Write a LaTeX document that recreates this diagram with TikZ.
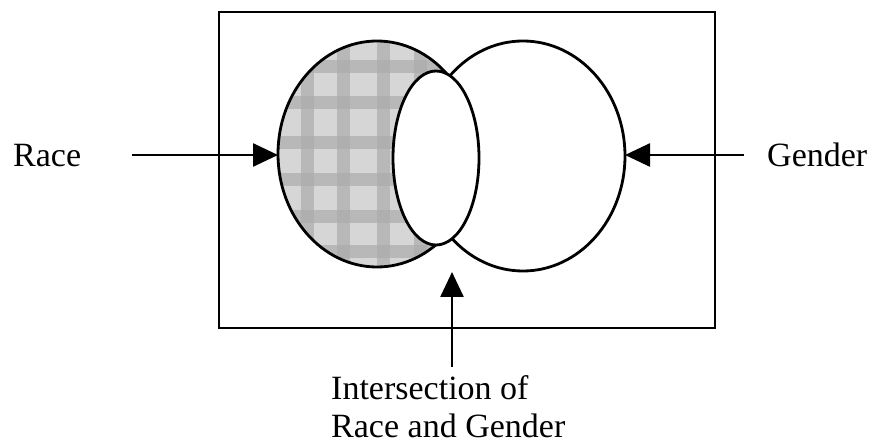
\documentclass[tikz,border=0pt]{standalone}
\usepackage{fontspec}
\setmainfont{Liberation Serif}
\usetikzlibrary{arrows.meta,shapes.geometric}
\tikzset{
  arr/.style={line width=2.6pt,-{Triangle[length=25pt,width=23pt]}},
  outline/.style={draw,line width=2.8pt,ellipse,inner sep=0pt,outer sep=0pt},
  lbl/.style={inner sep=0pt,font=\fontsize{34}{38}\selectfont},
  band/.style={line width=13pt,gray!65,opacity=0.7}
}
\begin{document}
\begin{tikzpicture}[x=1pt,y=-1pt]
\useasboundingbox (0,0) rectangle (875,443);
% frame
\node[draw,line width=2.4pt,inner sep=0pt,minimum width=496pt,minimum height=316pt] (frame) at (467,170) {};
% left (Race) circle with plaid shading
\fill[gray!32] (377,154) ellipse [x radius=99, y radius=113];
\begin{scope}
  \clip (377,154) ellipse [x radius=99, y radius=113];
  \foreach \xx in {307,343,383,420} {\draw[band] (\xx,30) -- (\xx,280);}
  \foreach \yy in {67,103,143,180,217,252} {\draw[band] (260,\yy) -- (490,\yy);}
\end{scope}
\node[outline,minimum width=198pt,minimum height=226pt] (L) at (377,154) {};
% right (Gender) circle
\node[outline,minimum width=204pt,minimum height=230pt] (R) at (523,156) {};
% intersection ellipse
\node[outline,fill=white,minimum width=86pt,minimum height=174pt] (I) at (436,158) {};
% labels
\node[lbl,anchor=base west] (race) at (13,167) {Race};
\node[lbl,anchor=base west] (gender) at (767,167) {Gender};
\node[lbl,anchor=base west,align=left] (inter) at (331,437) {Intersection of\\Race and Gender};
% arrows
\coordinate (raceStart) at (132,155);
\coordinate (genderStart) at (744,155);
\coordinate (interStart) at (452,367);
\coordinate (interTip) at (452,272);
\draw[arr] (raceStart) -- (raceStart -| L.west);
\draw[arr] (genderStart) -- (genderStart -| R.east);
\draw[arr] (interStart) -- (interTip);
\end{tikzpicture}
\end{document}
